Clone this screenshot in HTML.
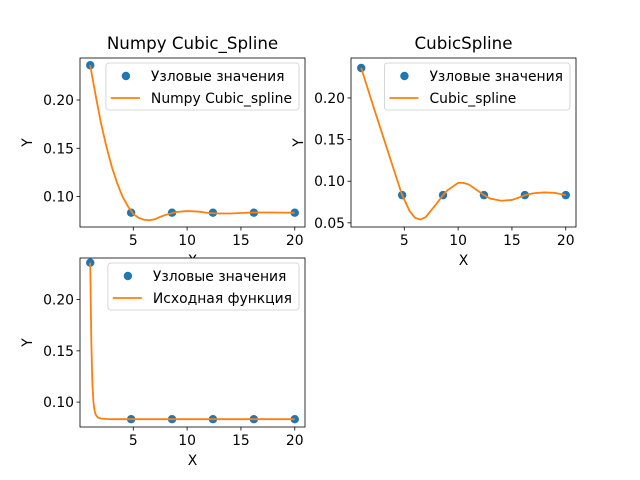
<!DOCTYPE html>
<html><head><meta charset="utf-8"><style>
body{margin:0;background:#fff}
svg{display:block;font-family:"DejaVu Sans","Liberation Sans",sans-serif}
</style></head><body>
<svg id="c" width="640" height="480"></svg>
<script>
const nodeX=[1,4.8,8.6,12.4,16.2,20];
const nodeY=[0.236,0.0833,0.0833,0.0833,0.0833,0.0833];
const xTicks=[5,10,15,20];
const yTicks1=[0.10,0.15,0.20];
const yTicks2=[0.05,0.10,0.15,0.20];
const curve1X=[1,1.5,2,2.5,3,3.5,4,4.5,5,5.5,6,6.5,7,7.5,8,9,10,11,12,13,14,15,16,17,18,19,20];
const curve1Y=[0.236,0.205,0.176,0.152,0.131,0.114,0.100,0.090,0.082,0.078,0.076,0.0755,0.0765,0.079,0.081,0.084,0.085,0.0845,0.083,0.0825,0.0825,0.083,0.0835,0.0835,0.0835,0.0834,0.0833];
const curve2X=[1,2,3,4,4.8,5.5,6,6.5,7,8,8.6,9,10,10.5,11,12,12.4,13,14,15,16,16.2,17,18,19,20];
const curve2Y=[0.236,0.195,0.155,0.115,0.0833,0.064,0.056,0.054,0.057,0.073,0.0833,0.089,0.098,0.098,0.096,0.087,0.0833,0.079,0.0765,0.0775,0.082,0.0833,0.0855,0.0865,0.086,0.0833];
const curve3X=[1,1.1,1.2,1.3,1.4,1.5,1.7,2,2.5,3,5,10,15,20];
const curve3Y=[0.236,0.16,0.118,0.1,0.092,0.088,0.085,0.084,0.0835,0.0833,0.0833,0.0833,0.0833,0.0833];
const NS="http://www.w3.org/2000/svg";
const svg=document.getElementById('c');
function el(t,a,p){const e=document.createElementNS(NS,t);for(const k in a)e.setAttribute(k,a[k]);(p||svg).appendChild(e);return e;}
const FS=13.9;
function panel(name,L,T,W,H,ymin,ymax,yt,cx,cy,title,lbl){
  const g=el('g',{});
  
  
  const xmin=0.05,xmax=20.95;
  const sx=v=>L+(v-xmin)/(xmax-xmin)*W, sy=v=>T+H-(v-ymin)/(ymax-ymin)*H;
  const bg=el('rect',{x:L,y:T,width:W,height:H,fill:'#fff'},g);
  
  xTicks.forEach(v=>{el('line',{x1:sx(v),x2:sx(v),y1:T+H,y2:T+H+3.5,stroke:'#000','stroke-width':0.8},g);
    const t=el('text',{x:sx(v),y:T+H+18,'font-size':FS,'text-anchor':'middle'},g);t.textContent=v;
    });
  yt.forEach(v=>{el('line',{x1:L-3.5,x2:L,y1:sy(v),y2:sy(v),stroke:'#000','stroke-width':0.8},g);
    const t=el('text',{x:L-6,y:sy(v)+5,'font-size':FS,'text-anchor':'end'},g);t.textContent=v.toFixed(2);
    });
  nodeX.forEach((v,i)=>{const c=el('circle',{cx:sx(v),cy:sy(nodeY[i]),r:4.2,fill:'#1f77b4'},g);
    });
  const p=el('polyline',{points:cx.map((v,i)=>sx(v)+','+sy(cy[i])).join(' '),fill:'none',stroke:'#ff7f0e','stroke-width':1.8},g);
  
  el('rect',{x:L,y:T,width:W,height:H,fill:'none',stroke:'#000','stroke-width':0.8},g);
  const xl=el('text',{x:L+W/2,y:T+H+38,'font-size':FS,'text-anchor':'middle'},g);xl.textContent='X';
  
  const yx=L-48;
  const yl=el('text',{x:yx,y:T+H/2,'font-size':FS,'text-anchor':'middle',transform:`rotate(-90 ${yx} ${T+H/2})`},g);
  yl.textContent='Y';
  if(title){const tt=el('text',{x:L+W/2,y:T-9,'font-size':16.7,'text-anchor':'middle'},g);tt.textContent=title;
    }
  const lg=el('g',{},g);
  const box=el('rect',{y:T+5,height:47,rx:3,fill:'#fff','fill-opacity':0.8,stroke:'#ccc','stroke-width':0.8},lg);
  const mk=el('circle',{cy:T+18,r:4.2,fill:'#1f77b4'},lg);
  const a=el('text',{y:T+23,'font-size':FS},lg);a.textContent='Узловые значения';
  
  const ln=el('line',{y1:T+40,y2:T+40,stroke:'#ff7f0e','stroke-width':1.8},lg);
  const b=el('text',{y:T+45,'font-size':FS},lg);b.textContent=lbl;
  
  const tw=Math.max(a.getComputedTextLength(),b.getComputedTextLength());
  const lw=tw+52, lx=L+W-lw-6;
  box.setAttribute('x',lx);box.setAttribute('width',lw);
  mk.setAttribute('cx',lx+20);
  a.setAttribute('x',lx+45);b.setAttribute('x',lx+45);
  ln.setAttribute('x1',lx+5);ln.setAttribute('x2',lx+34);
}
panel('subplot-numpy',80,58,225,169,0.0685,0.2435,yTicks1,curve1X,curve1Y,'Numpy Cubic_Spline','Numpy Cubic_spline');
panel('subplot-cubicspline',351,58,225,169,0.0450,0.2480,yTicks2,curve2X,curve2Y,'CubicSpline','Cubic_spline');
panel('subplot-original',80,258,225,169,0.0757,0.2406,yTicks1,curve3X,curve3Y,'','Исходная функция');
</script>
</body></html>
